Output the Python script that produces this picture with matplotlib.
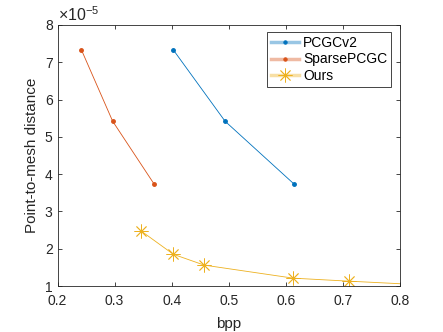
import matplotlib
matplotlib.use("Agg")
import matplotlib.pyplot as plt
from matplotlib.lines import Line2D
from matplotlib.ticker import FuncFormatter

# Data
pcgc_bpp = [0.403, 0.4935, 0.614]
pcgc_d = [7.33e-5, 5.42e-5, 3.74e-5]
sparse_bpp = [0.242, 0.2966, 0.369]
sparse_d = [7.33e-5, 5.42e-5, 3.74e-5]
ours_bpp = [0.347, 0.403, 0.457, 0.613, 0.71, 0.88]
ours_d = [2.47e-5, 1.85e-5, 1.56e-5, 1.21e-5, 1.13e-5, 1.0e-5]
x_ticks = [0.2, 0.3, 0.4, 0.5, 0.6, 0.7, 0.8]
y_ticks = [1e-5, 2e-5, 3e-5, 4e-5, 5e-5, 6e-5, 7e-5, 8e-5]

c_blue = '#0072BD'
c_red = '#D95319'
c_yel = '#EDB120'
axc = '#262626'
star = (8, 2, 0)

plt.rcParams['font.family'] = ['Liberation Sans', 'DejaVu Sans']
plt.rcParams['mathtext.fontset'] = 'custom'
plt.rcParams['mathtext.rm'] = 'Liberation Sans'
fig = plt.figure(figsize=(4.43, 3.32), dpi=100)
ax = fig.add_axes([57.5/443, 46/332, (400-57.5)/443, (286-25)/332])

ax.plot(pcgc_bpp, pcgc_d, color=c_blue, lw=0.6, marker='.', ms=5)
ax.plot(sparse_bpp, sparse_d, color=c_red, lw=0.6, marker='.', ms=5)
ax.plot(ours_bpp, ours_d, color=c_yel, lw=0.6, marker=star, ms=10,
        markeredgewidth=0.6)

ax.set_xlim(0.2, 0.8)
ax.set_ylim(1e-5, 8e-5)
ax.set_xticks(x_ticks)
ax.set_yticks(y_ticks)
ax.xaxis.set_major_formatter(FuncFormatter(lambda v, p: f'{v:g}'))
ax.yaxis.set_major_formatter(FuncFormatter(lambda v, p: f'{round(v/1e-5):d}'))
ax.tick_params(direction='in', top=True, right=True, length=3, width=0.6,
               colors=axc, labelsize=10)
ax.tick_params(axis='x', pad=6)
for s in ax.spines.values():
    s.set_color(axc)
    s.set_linewidth(0.6)

ax.set_xlabel('bpp', fontsize=11, color=axc, labelpad=6)
ax.set_ylabel('Point-to-mesh distance', fontsize=11, color=axc)
ax.text(0.0, 1.005, r'$\mathregular{\times10^{-5}}$', transform=ax.transAxes,
        fontsize=11.5, color=axc, ha='left', va='bottom')

def h(c, m, ms):
    l1 = Line2D([], [], color=c, lw=2.5, alpha=0.4)
    l2 = Line2D([], [], color=c, lw=0, marker=m, ms=ms, markeredgewidth=0.6)
    return (l1, l2)

leg = ax.legend([h(c_blue, '.', 5), h(c_red, '.', 5), h(c_yel, star, 10)],
                ['PCGCv2', 'SparsePCGC', 'Ours'],
                loc='upper right', bbox_to_anchor=(0.975, 0.975),
                fontsize=10, fancybox=False, framealpha=1,
                edgecolor=axc, handlelength=2.0, handletextpad=0.3,
                borderpad=0.3, labelspacing=0.2, borderaxespad=0)
leg.get_frame().set_linewidth(0.6)

fig.savefig('out.png', dpi=100)
